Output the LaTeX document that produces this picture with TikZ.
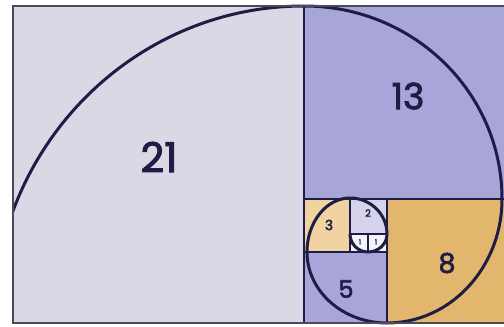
\documentclass[tikz,border=0pt]{standalone}
\usepackage{fontspec}
\setmainfont{Poppins}
\newfontfamily\numfont{Poppins}[RawFeature={embolden=2.5}]
\usepackage{xcolor}
\definecolor{ink}{HTML}{1F1D45}
\definecolor{frame}{HTML}{4A4A58}
\definecolor{pale}{HTML}{DAD8E5}
\definecolor{violet}{HTML}{A8A5D9}
\definecolor{sand}{HTML}{E3B66E}
\definecolor{sandlight}{HTML}{F0D3A0}
\definecolor{lilac}{HTML}{D6D4EC}
\definecolor{chalk}{HTML}{F4F3F8}
\usepackage{tikz}

\begin{document}
\begin{tikzpicture}[x=1pt,y=-1pt,
  divider/.style={draw=ink,line width=1.4pt},
  spiral/.style={draw=ink,line width=3pt,line cap=round},
  num/.style={text=ink,inner sep=0pt,anchor=center}]
\useasboundingbox (0,0) rectangle (504,327);
% squares
\fill[pale] (13,6) rectangle (304,323);
\fill[violet] (304,6) rectangle (508,199);
\fill[sand] (387,199) rectangle (508,323);
\fill[violet] (304,252) rectangle (387,323);
\fill[sandlight] (304,199) rectangle (350,252);
\fill[lilac] (350,199) rectangle (387,234);
\fill[chalk] (350,234) rectangle (387,252);
% dividing lines
\draw[divider] (304,6) -- (304,323);
\draw[divider] (304,199) -- (508,199);
\draw[divider] (387,199) -- (387,323);
\draw[divider] (304,252) -- (387,252);
\draw[divider] (350,199) -- (350,252);
\draw[divider] (350,234) -- (387,234);
\draw[divider] (368,234) -- (368,252);
% spiral
\begin{scope}
  \clip (13,0) rectangle (304,323);
  \draw[spiral] (304,6) arc[start angle=-90,end angle=-180,x radius=311,y radius=317];
\end{scope}
\draw[spiral] (304,6)
  arc[start angle=-90,end angle=0,x radius=198,y radius=193]
  arc[start angle=0,end angle=90,x radius=115,y radius=124]
  arc[start angle=90,end angle=180,x radius=80,y radius=71]
  arc[start angle=180,end angle=270,x radius=43,y radius=54]
  arc[start angle=270,end angle=360,x radius=37,y radius=36]
  arc[start angle=0,end angle=90,x radius=19,y radius=18]
  arc[start angle=90,end angle=180,x radius=18,y radius=18];
% outer frame
\draw[frame,line width=1.8pt] (508,6) -- (13,6) -- (13,323) -- (508,323);
% labels
\node[num,font=\numfont\fontsize{41}{41}\selectfont] (n21) at (159,157) {21};
\node[num,font=\numfont\fontsize{36}{36}\selectfont] (n13) at (408,96) {13};
\node[num,font=\numfont\fontsize{27}{27}\selectfont] (n8) at (447,263) {8};
\node[num,font=\numfont\fontsize{24}{24}\selectfont] (n5) at (346,289) {5};
\node[num,font=\numfont\fontsize{14}{14}\selectfont] (n3) at (329,225) {3};
\node[num,font=\numfont\fontsize{10}{10}\selectfont] (n2) at (368,213) {2};
\node[num,font=\numfont\fontsize{7}{7}\selectfont] (n1a) at (360,242) {1};
\node[num,font=\numfont\fontsize{7}{7}\selectfont] (n1b) at (376,242) {1};
\end{tikzpicture}
\end{document}
